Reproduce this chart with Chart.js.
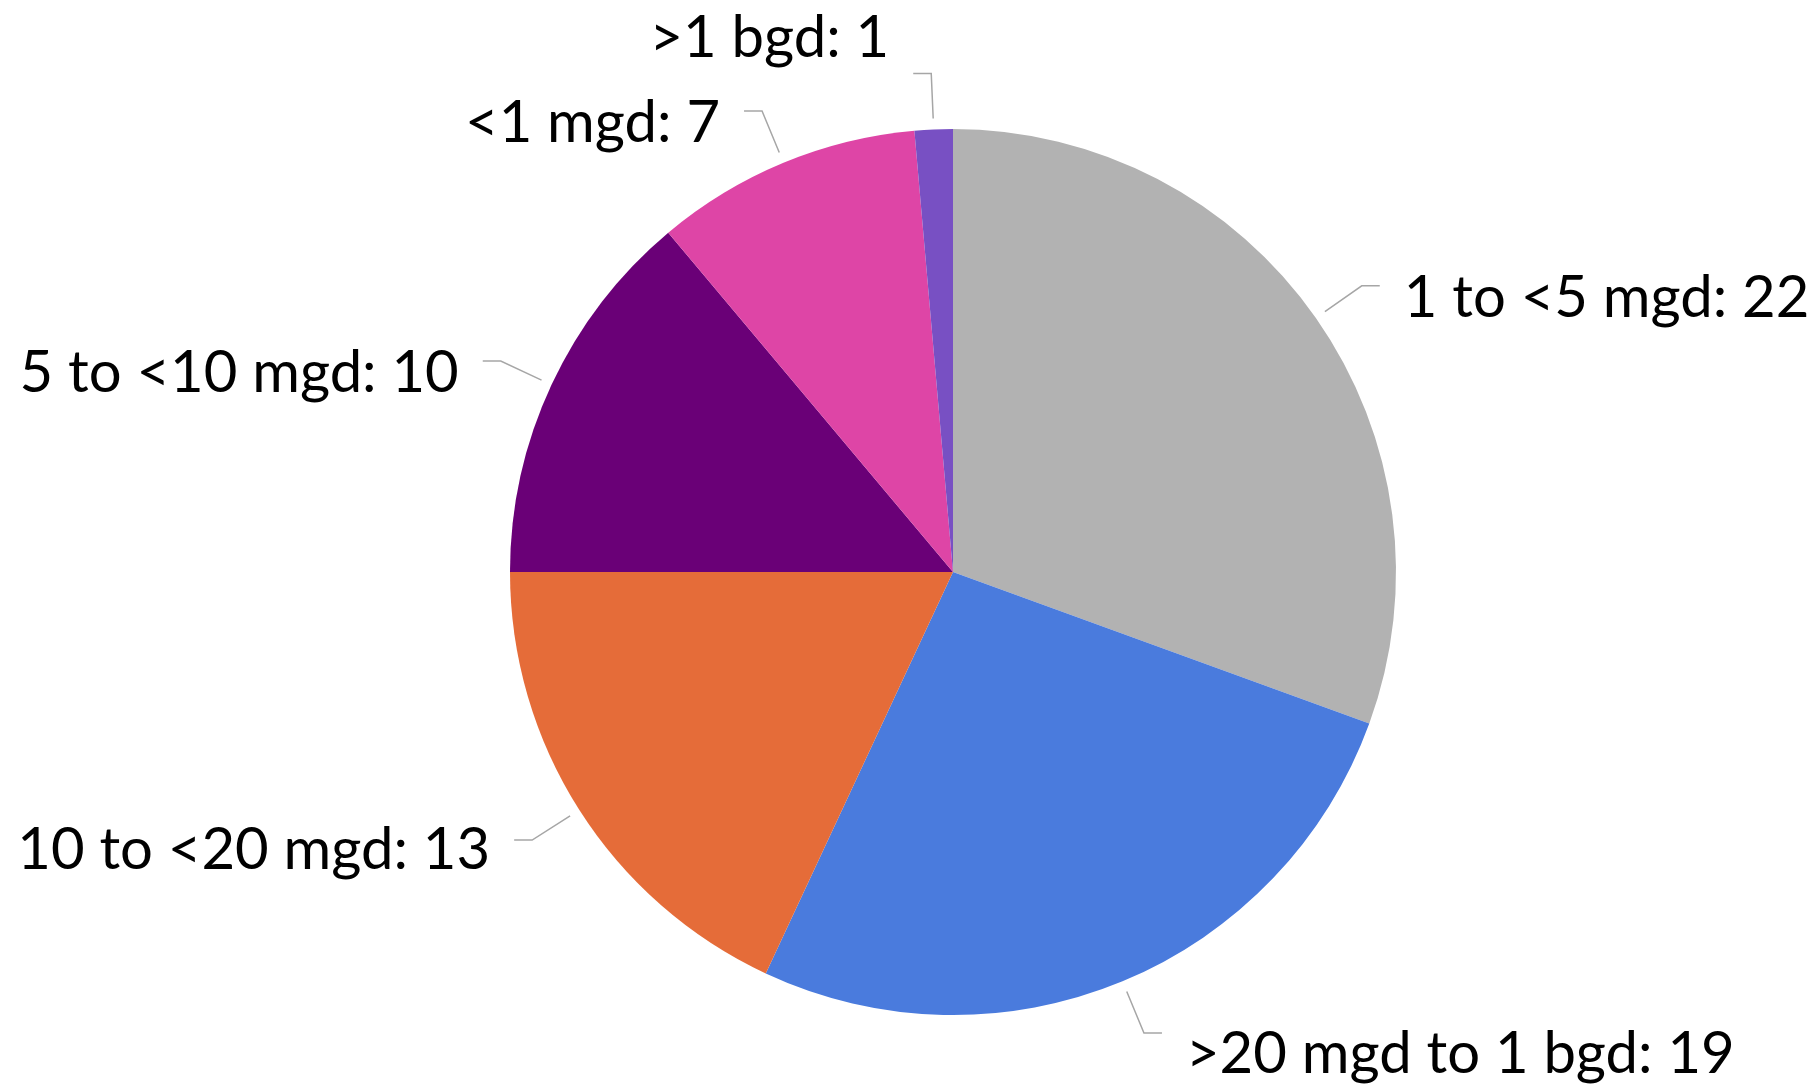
<!DOCTYPE html>
<html>
<head>
<meta charset="utf-8">
<script src="https://cdn.jsdelivr.net/npm/chart.js@4/dist/chart.umd.min.js"></script>
<style>
  html, body { margin: 0; padding: 0; background: #ffffff; }
  #wrap { width: 1814px; height: 1084px; position: relative; }
</style>
</head>
<body>
<div id="wrap"><canvas id="pie" width="1814" height="1084"></canvas></div>
<script>
// Plant sizes and plant counts, clockwise from 12 o'clock
const categories = ['1 to <5 mgd', '>20 mgd to 1 bgd', '10 to <20 mgd', '5 to <10 mgd', '<1 mgd', '>1 bgd'];
const counts = [22, 19, 13, 10, 7, 1];
const sliceColors = ['#b2b2b2', '#4a7bdd', '#e56c39', '#6a0077', '#de45a6', '#7850c3'];

// vertical nudge of each label relative to its leader elbow (px)
const labelNudgeY = [10, 19, 8, 10, 10, -37];

const calloutPlugin = {
  id: 'callouts',
  afterDatasetsDraw(chart) {
    const ctx = chart.ctx;
    const meta = chart.getDatasetMeta(0);
    ctx.save();
    ctx.font = '58px Lato, "Open Sans", sans-serif';
    ctx.fillStyle = '#000000';
    ctx.textBaseline = 'alphabetic';
    meta.data.forEach((arc, i) => {
      const p = arc.getProps(['x', 'y', 'startAngle', 'endAngle', 'outerRadius'], true);
      const mid = (p.startAngle + p.endAngle) / 2;
      const c = Math.cos(mid), s = Math.sin(mid);
      const r0 = p.outerRadius + 11;
      const r1 = p.outerRadius + 56;
      const x0 = p.x + c * r0, y0 = p.y + s * r0;
      const x1 = p.x + c * r1, y1 = p.y + s * r1;
      const right = c >= 0;
      const hLen = 18, gap = 24;
      const x2 = right ? x1 + hLen : x1 - hLen;

      ctx.beginPath();
      ctx.strokeStyle = '#a6a6a6';
      ctx.lineWidth = 1.5;
      ctx.moveTo(x0, y0);
      ctx.lineTo(x1, y1);
      ctx.lineTo(x2, y1);
      ctx.stroke();

      const text = categories[i] + ': ' + counts[i];
      const cy = y1 + labelNudgeY[i];
      ctx.textAlign = right ? 'left' : 'right';
      ctx.fillText(text, right ? x2 + gap : x2 - gap, cy + 21);
    });
    ctx.restore();
  }
};

new Chart(document.getElementById('pie'), {
  type: 'pie',
  data: {
    labels: categories,
    datasets: [{
      data: counts,
      backgroundColor: sliceColors,
      borderWidth: 0
    }]
  },
  options: {
    responsive: false,
    animation: false,
    layout: { padding: { left: 510, right: 418, top: 129, bottom: 69 } },
    plugins: {
      legend: { display: false },
      tooltip: { enabled: false }
    }
  },
  plugins: [calloutPlugin]
});
</script>
</body>
</html>
